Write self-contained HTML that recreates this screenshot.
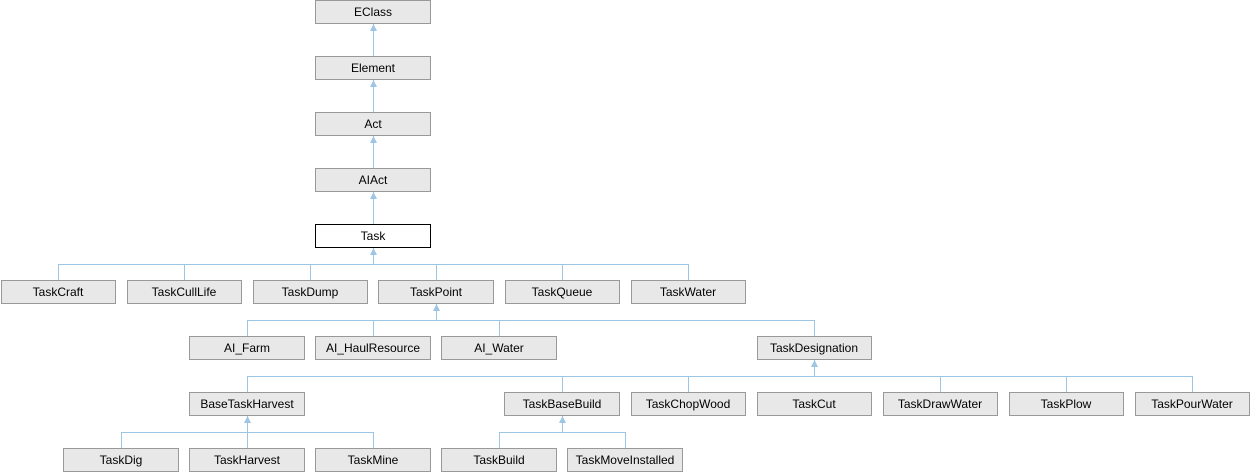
<!DOCTYPE html>
<html><head><style>body{margin:0;background:#fff}svg{display:block}</style></head><body>
<svg width="1250" height="472" xmlns="http://www.w3.org/2000/svg" font-family="Liberation Sans, sans-serif" font-size="12">
<defs><marker id="a" markerWidth="8" markerHeight="8" refX="4" refY="0" orient="0" markerUnits="userSpaceOnUse"><path d="M0.5,7 L4,0 L7.5,7 Z" fill="#9cc6e4" stroke="#9cc6e4"/></marker></defs>
<g stroke="#9cc6e4" stroke-width="1" fill="none">
<path d="M373.5,56 V24" /><path d="M373.5,112 V80"/><path d="M373.5,168 V136"/><path d="M373.5,224 V192"/>
<path d="M373.5,264.5 V248"/><path d="M58.5,280 V264.5 H688.5 V280 M184.5,264.5 V280 M310.5,264.5 V280 M436.5,264.5 V280 M562.5,264.5 V280"/>
<path d="M436.5,320.5 V304"/><path d="M247.5,336 V320.5 H814.5 V336 M373.5,320.5 V336 M499.5,320.5 V336"/>
<path d="M814.5,376.5 V360"/><path d="M247.5,392 V376.5 H1192.5 V392 M562.5,376.5 V392 M688.5,376.5 V392 M940.5,376.5 V392 M1066.5,376.5 V392"/>
<path d="M247.5,432.5 V416"/><path d="M121.5,448 V432.5 H373.5 V448 M247.5,432.5 V448"/>
<path d="M562.5,432.5 V416"/><path d="M499.5,448 V432.5 H625.5 V448"/>
</g>
<g fill="#9cc6e4"><path d="M373.5,24 l-3.5,7 h7z"/><path d="M373.5,80 l-3.5,7 h7z"/><path d="M373.5,136 l-3.5,7 h7z"/><path d="M373.5,192 l-3.5,7 h7z"/><path d="M373.5,248 l-3.5,7 h7z"/><path d="M436.5,304 l-3.5,7 h7z"/><path d="M814.5,360 l-3.5,7 h7z"/><path d="M247.5,416 l-3.5,7 h7z"/><path d="M562.5,416 l-3.5,7 h7z"/></g>
<g stroke="#999" fill="#e8e8e8">
<rect x="315.5" y="0.5" width="115" height="23"/><rect x="315.5" y="56.5" width="115" height="23"/><rect x="315.5" y="112.5" width="115" height="23"/><rect x="315.5" y="168.5" width="115" height="23"/>
<rect x="315.5" y="224.5" width="115" height="23" fill="#fff" stroke="#000"/>
<rect x="1.5" y="280.5" width="114" height="23"/><rect x="127.5" y="280.5" width="114" height="23"/><rect x="253.5" y="280.5" width="114" height="23"/><rect x="378.5" y="280.5" width="115" height="23"/><rect x="505.5" y="280.5" width="114" height="23"/><rect x="631.5" y="280.5" width="114" height="23"/>
<rect x="189.5" y="336.5" width="115" height="23"/><rect x="315.5" y="336.5" width="115" height="23"/><rect x="441.5" y="336.5" width="115" height="23"/><rect x="757.5" y="336.5" width="114" height="23"/>
<rect x="189.5" y="392.5" width="115" height="23"/><rect x="504.5" y="392.5" width="115" height="23"/><rect x="631.5" y="392.5" width="114" height="23"/><rect x="757.5" y="392.5" width="114" height="23"/><rect x="883.5" y="392.5" width="114" height="23"/><rect x="1009.5" y="392.5" width="114" height="23"/><rect x="1135.5" y="392.5" width="114" height="23"/>
<rect x="63.5" y="448.5" width="115" height="23"/><rect x="189.5" y="448.5" width="115" height="23"/><rect x="315.5" y="448.5" width="115" height="23"/><rect x="441.5" y="448.5" width="115" height="23"/><rect x="567.5" y="448.5" width="115" height="23"/>
</g>
<g fill="#000" text-anchor="middle">
<text x="373" y="16">EClass</text><text x="373" y="72">Element</text><text x="373" y="128">Act</text><text x="373" y="184">AIAct</text><text x="373" y="240">Task</text>
<text x="58" y="296">TaskCraft</text><text x="184" y="296">TaskCullLife</text><text x="310" y="296">TaskDump</text><text x="436" y="296">TaskPoint</text><text x="562" y="296">TaskQueue</text><text x="688" y="296">TaskWater</text>
<text x="247" y="352">AI_Farm</text><text x="373" y="352">AI_HaulResource</text><text x="499" y="352">AI_Water</text><text x="814" y="352">TaskDesignation</text>
<text x="247" y="408">BaseTaskHarvest</text><text x="562" y="408">TaskBaseBuild</text><text x="688" y="408">TaskChopWood</text><text x="814" y="408">TaskCut</text><text x="940" y="408">TaskDrawWater</text><text x="1066" y="408">TaskPlow</text><text x="1192" y="408">TaskPourWater</text>
<text x="121" y="464">TaskDig</text><text x="247" y="464">TaskHarvest</text><text x="373" y="464">TaskMine</text><text x="499" y="464">TaskBuild</text><text x="625" y="464">TaskMoveInstalled</text>
</g>
</svg>
</body></html>
